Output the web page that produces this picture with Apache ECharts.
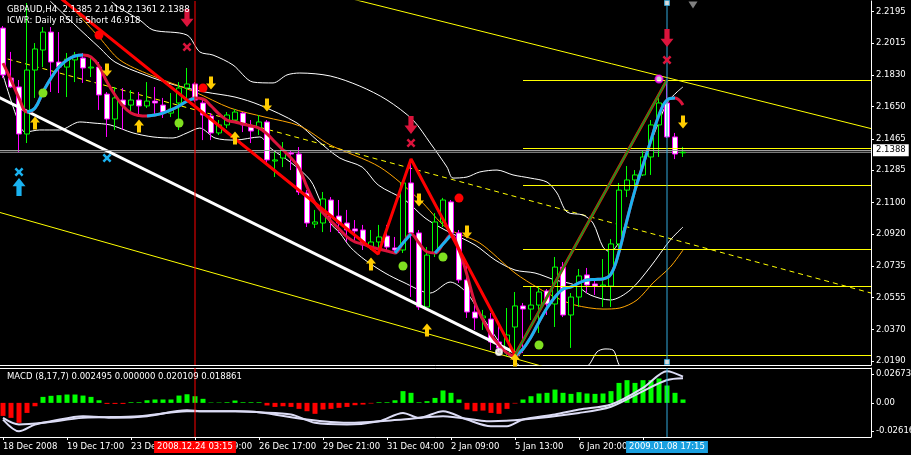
<!DOCTYPE html>
<html><head><meta charset="utf-8">
<script src="https://cdn.jsdelivr.net/npm/echarts@6/dist/echarts.min.js"></script>
<style>html,body{margin:0;padding:0;background:#000;}#c{width:911px;height:455px;}</style>
</head><body><div id="c"></div>
<script>
// ---------- DATA ----------
// candles: [open, high, low, close]
const candles = [
[2.2101,2.2113,2.1814,2.1832],[2.1814,2.1964,2.1757,2.1763],[2.1763,2.1803,2.1389,2.1493],[2.1493,2.2245,2.1441,2.1860],
[2.1860,2.2015,2.1700,2.1981],[2.1975,2.2107,2.1877,2.2078],[2.2078,2.2107,2.1734,2.1906],[2.1906,2.2078,2.1728,2.1877],
[2.1877,2.1958,2.1705,2.1923],[2.1918,2.1964,2.1791,2.1946],[2.1929,2.1958,2.1786,2.1872],[2.1872,2.1929,2.1820,2.1877],
[2.1877,2.1906,2.1631,2.1717],[2.1722,2.1734,2.1476,2.1579],[2.1579,2.1763,2.1516,2.1700],[2.1688,2.1757,2.1516,2.1659],
[2.1659,2.1745,2.1619,2.1688],[2.1688,2.1734,2.1602,2.1654],[2.1654,2.1791,2.1642,2.1682],[2.1682,2.1763,2.1602,2.1671],
[2.1659,2.1700,2.1585,2.1619],[2.1613,2.1728,2.1590,2.1636],[2.1671,2.1791,2.1516,2.1757],[2.1757,2.1872,2.1688,2.1780],
[2.1780,2.1791,2.1677,2.1688],[2.1671,2.1688,2.1458,2.1602],[2.1596,2.1613,2.1458,2.1499],[2.1499,2.1573,2.1487,2.1545],
[2.1545,2.1619,2.1527,2.1602],[2.1573,2.1636,2.1562,2.1619],[2.1613,2.1619,2.1504,2.1545],[2.1533,2.1573,2.1441,2.1510],
[2.1527,2.1602,2.1487,2.1562],[2.1562,2.1573,2.1326,2.1344],[2.1338,2.1389,2.1246,2.1344],[2.1355,2.1447,2.1303,2.1401],
[2.1384,2.1401,2.1286,2.1378],[2.1378,2.1418,2.1143,2.1160],[2.1154,2.1171,2.0959,2.0982],[2.0976,2.1057,2.0953,2.0988],
[2.0982,2.1160,2.0930,2.1120],[2.1114,2.1131,2.0930,2.1016],[2.1022,2.1114,2.0925,2.0982],[2.0982,2.1057,2.0873,2.0942],
[2.0948,2.0999,2.0884,2.0936],[2.0942,2.0971,2.0827,2.0856],[2.0844,2.0942,2.0827,2.0873],[2.0873,2.0971,2.0839,2.0902],
[2.0907,2.0971,2.0827,2.0844],[2.0839,2.0902,2.0815,2.0827],[2.0827,2.1217,2.0810,2.1212],[2.1212,2.1344,2.0557,2.0925],
[2.0925,2.0942,2.0483,2.0500],[2.0500,2.0844,2.0500,2.0798],[2.0810,2.1039,2.0787,2.0988],[2.0988,2.1126,2.0959,2.1114],
[2.1103,2.1114,2.0913,2.0925],[2.0925,2.0942,2.0638,2.0655],[2.0655,2.0758,2.0437,2.0471],[2.0471,2.0511,2.0368,2.0437],
[2.0437,2.0483,2.0368,2.0448],[2.0431,2.0465,2.0253,2.0299],[2.0299,2.0414,2.0242,2.0265],[2.0236,2.0494,2.0219,2.0339],
[2.0385,2.0586,2.0224,2.0506],[2.0506,2.0523,2.0236,2.0488],[2.0488,2.0615,2.0425,2.0511],[2.0511,2.0615,2.0351,2.0586],
[2.0592,2.0603,2.0454,2.0517],[2.0517,2.0787,2.0385,2.0729],[2.0729,2.0758,2.0442,2.0454],[2.0454,2.0580,2.0265,2.0557],
[2.0557,2.0718,2.0500,2.0678],[2.0684,2.0724,2.0580,2.0626],[2.0632,2.0666,2.0569,2.0620],[2.0620,2.0775,2.0500,2.0626],
[2.0620,2.0890,2.0500,2.0862],[2.0862,2.1212,2.0798,2.1171],[2.1171,2.1309,2.1131,2.1229],[2.1229,2.1286,2.1131,2.1258],
[2.1258,2.1395,2.1252,2.1361],[2.1361,2.1573,2.1258,2.1545],[2.1545,2.1700,2.1361,2.1671],[2.1671,2.1803,2.1470,2.1476],
[2.1476,2.1499,2.1349,2.1378],[2.1385,2.1419,2.1361,2.1388]
];
// thick moving average (one value per bar)
const maLine = [2.1900,2.1803,2.1699,2.1619,2.1642,2.1734,2.1814,2.1877,2.1918,2.1941,
2.1946,2.1935,2.1883,2.1791,2.1717,2.1654,2.1613,2.1599,2.1596,2.1602,
2.1613,2.1631,2.1654,2.1682,2.1699,2.1694,2.1654,2.1608,2.1573,2.1562,
2.1550,2.1539,2.1527,2.1493,2.1447,2.1401,2.1355,2.1298,2.1189,2.1097,
2.1039,2.0993,2.0948,2.0902,2.0873,2.0861,2.0844,2.0833,2.0821,2.0810,
2.0867,2.0919,2.0867,2.0816,2.0810,2.0861,2.0913,2.0827,2.0684,2.0523,
2.0425,2.0339,2.0282,2.0236,2.0219,2.0259,2.0328,2.0414,2.0494,2.0557,
2.0603,2.0615,2.0638,2.0655,2.0658,2.0661,2.0689,2.0816,2.0999,2.1171,
2.1315,2.1458,2.1602,2.1688,2.1699,2.1659];
// thin bands [barIndex, price]
const bandUpper = [[13.6,2.2251],[14.6,2.2216],[17.1,2.2147],[18.75,2.2090],[23,2.2061],[24.6,2.1964],[26.25,2.1946],[28.75,2.1889],[31.25,2.1791],[33.75,2.1786],[35.5,2.1832],[37.1,2.1843],[40.9,2.1826],[44.6,2.1768],[48,2.1688],[51.25,2.1573],[53.4,2.1441],[55.5,2.1303],[56.25,2.1240],[58,2.1246],[59.6,2.1275],[61.75,2.1286],[63.75,2.1258],[65.9,2.1240],[68,2.1217],[69.25,2.1154],[70.5,2.1045],[72.5,2.1028],[73.75,2.0982],[75,2.0844],[75.9,2.0816],[77.1,2.0884],[78.4,2.1074],[79.6,2.1269],[81.25,2.1476],[83,2.1671],[84.25,2.1734],[85,2.1763]];
const bandMiddle = [[5.9,2.2256],[9,2.2119],[12.1,2.1987],[14,2.1906],[17.75,2.1832],[21.5,2.1774],[25.25,2.1734],[29,2.1705],[32.1,2.1659],[36.75,2.1556],[39.25,2.1458],[42.1,2.1355],[44.9,2.1303],[46.9,2.1200],[50.25,2.1114],[52.75,2.1011],[55.25,2.0942],[59,2.0856],[61.5,2.0770],[64,2.0712],[66.5,2.0695],[69,2.0655],[71.5,2.0626],[73.4,2.0569],[75.9,2.0540],[78.4,2.0597],[80.9,2.0729],[83.4,2.0884],[85,2.0959]];
const bandLower = [[0,2.1832],[0.9,2.1699],[2.1,2.1545],[2.75,2.1504],[4.6,2.1516],[7.1,2.1516],[9.6,2.1562],[11.25,2.1556],[13.4,2.1545],[16.25,2.1499],[18.75,2.1476],[21.25,2.1470],[23,2.1499],[24.6,2.1527],[26.5,2.1470],[29,2.1458],[32.1,2.1476],[33.4,2.1413],[35.9,2.1332],[38.4,2.1229],[39.6,2.1114],[40.9,2.0982],[42.1,2.0925],[43.4,2.0844],[45.25,2.0770],[47.75,2.0695],[50,2.0643],[53.4,2.0580],[55.9,2.0643],[58,2.0580],[59.6,2.0465],[61.25,2.0351],[63,2.0236],[64.6,2.0161],[68.5,2.0030],[73.1,2.0161],[74.25,2.0242],[75.25,2.0259],[76.25,2.0253],[77.1,2.0161],[79,2.0080]];
const maOrange = [[7.75,2.2262],[12.1,2.2044],[14.6,2.1918],[18.4,2.1832],[24,2.1734],[28.4,2.1642],[32.75,2.1590],[37.1,2.1539],[40.9,2.1430],[47.1,2.1303],[52.1,2.1114],[55.5,2.0953],[59.6,2.0867],[64,2.0695],[66.9,2.0609],[69,2.0557],[71.5,2.0511],[75,2.0488],[77.1,2.0494],[79.25,2.0540],[81.25,2.0638],[83.4,2.0729],[85,2.0827]];
// zigzag vertices
const zigzag = [[7,2.2280],[46.9,2.0804],[51,2.1349],[64,2.0224],[83,2.1803]];
// trend lines
const whiteTrend = [[-0.5,2.1703],[64.6,2.0224]];
const yellowUpper = [[42,2.2287],[108.5,2.1524]];
const yellowLower = [[-0.5,2.1044],[67.75,2.0155]];
const yellowDashed = [[-0.5,2.1937],[108.5,2.0580]];
const fibLevels = [2.1800,2.1411,2.1198,2.0831,2.0619,2.0223];
const fibStart = 65;
const bidPrice = 2.1388;
const priceTicks = [2.2195,2.2015,2.1830,2.1650,2.1465,2.1285,2.1100,2.0920,2.0735,2.0555,2.0370,2.0190];
// markers [barIndex, price]
const redDownArrows = [[23,2.2159],[51,2.1545],[83,2.2044]];
const redCrosses = [[23,2.1992],[51,2.1441],[83,2.1918]];
const yellowDown = [[13,2.1860],[26,2.1786],[33,2.1659],[52,2.1114],[58,2.0930],[85,2.1562]];
const yellowUp = [[4,2.1556],[17,2.1539],[29,2.1470],[46,2.0747],[53,2.0368],[64,2.0196]];
const blueUp = [[2,2.1189]];
const blueCross = [[2,2.1275],[13,2.1355]];
const greenDots = [[5,2.1728],[22,2.1556],[50,2.0735],[55,2.0787],[67,2.0282]];
const redDots = [[12,2.2061],[25,2.1757],[57,2.1125]];
const lineEndMarks = [[83,2.2245],[83,2.0184]];
const navTriangle = [[86.25,2.2233]];
// MACD
const macdHist = [-0.0100,-0.0115,-0.0153,-0.0077,-0.0026,0.0046,0.0054,0.0059,0.0064,0.0064,
0.0056,0.0046,0.0020,-0.0008,-0.0008,-0.0008,0.0005,0.0005,0.0020,0.0026,
0.0026,0.0026,0.0056,0.0066,0.0051,0.0031,0.0003,0.0003,0.0005,0.0018,
0.0005,0.0005,0.0005,-0.0020,-0.0031,-0.0026,-0.0031,-0.0046,-0.0064,-0.0084,
-0.0051,-0.0046,-0.0038,-0.0031,-0.0018,-0.0013,-0.0005,0.0005,0.0005,0.0020,
0.0090,0.0077,0.0005,0.0013,0.0038,0.0095,0.0077,0.0026,-0.0051,-0.0064,
-0.0059,-0.0077,-0.0084,-0.0046,-0.0005,0.0026,0.0051,0.0072,0.0077,0.0102,
0.0077,0.0069,0.0082,0.0072,0.0069,0.0072,0.0090,0.0153,0.0174,0.0153,
0.0174,0.0174,0.0187,0.0133,0.0077,0.0026];
const macdMain = [[0,-0.0128],[2,-0.0218],[4,-0.0166],[6,-0.0141],[10,-0.0102],[14,-0.0115],[18,-0.0102],[23,-0.0056],[25,-0.0064],[29,-0.0064],[32,-0.0072],[36,-0.0089],[39,-0.0153],[43,-0.0166],[47,-0.0141],[50,-0.0077],[52,-0.0115],[55,-0.0064],[58,-0.0128],[61,-0.0179],[63,-0.0179],[65,-0.0128],[69,-0.0089],[72,-0.0051],[76,-0.0013],[80,0.0115],[83,0.0243],[85,0.0201]];
const macdSignal = [[0,-0.0115],[2,-0.0166],[5,-0.0153],[10,-0.0115],[17,-0.0102],[23,-0.0064],[29,-0.0064],[32,-0.0072],[38,-0.0128],[43,-0.0153],[50,-0.0128],[55,-0.0102],[61,-0.0141],[65,-0.0128],[72,-0.0077],[76,-0.0030],[80,0.0090],[83,0.0175],[85,0.0189]];
const macdMax = 0.026731, macdMin = -0.026161;
const macdTickLabels = ['0.026731','0.00','-0.026161'];
const timeLabels = ['18 Dec 2008','19 Dec 17:00','23 Dec 01:00','24 Dec 09:00','26 Dec 17:00','29 Dec 21:00','31 Dec 04:00','2 Jan 09:00','5 Jan 13:00','6 Jan 20:00','8 Jan 04:00'];
const headerLines = ['GBPAUD,H4  2.1385 2.1419 2.1361 2.1388','ICWR: Daily RSI is Short 46.918'];
const macdTitle = 'MACD (8,17,7) 0.002495 0.000000 0.020109 0.018861';
const redLineBar = 24, redLineText = '2008.12.24 03:15';
const blueLineBar = 83, blueLineText = '2009.01.08 17:15';

// ---------- CHART ----------
const NCAT = 109;
const FONT = 'DejaVu Sans';
const cats = Array.from({length:NCAT},(_,i)=>String(i));
const Y_MAX = 2.22564, Y_MIN = 2.01669;
const rising = i => (i>0 && maLine[i]>maLine[i-1]) || (i<maLine.length-1 && maLine[i+1]>maLine[i]);
const maBlue = maLine.map((v,i)=> rising(i)? v : null);
const upPath = 'path://M5 0 L10 6 L7 6 L7 13 L3 13 L3 6 L0 6 Z';
const downPath = 'path://M5 13 L10 7 L7 7 L7 0 L3 0 L3 7 L0 7 Z';
const crossPath = 'path://M0 2 L2 0 L5 3 L8 0 L10 2 L7 5 L10 8 L8 10 L5 7 L2 10 L0 8 L3 5 Z';
function line(data, color, width, extra){
  return Object.assign({type:'line', xAxisIndex:1, yAxisIndex:0, data, symbol:'none', silent:true,
    lineStyle:{color, width}}, extra||{});
}
function scatter(data, symbol, size, color, extra){
  return Object.assign({type:'scatter', xAxisIndex:1, yAxisIndex:0, data, symbol, symbolSize:size, silent:true,
    itemStyle:{color, opacity:1}, z:6}, extra||{});
}
const chart = echarts.init(document.getElementById('c'));
const tickInterval = i => i%8===0 && i<=80;
const axLine = {show:true, onZero:false, lineStyle:{color:'#ffffff', width:1}};
chart.setOption({
  backgroundColor:'#000000',
  animation:false,
  grid:[
    {left:-1, right:40, top:1, bottom:90, containLabel:false, outerBoundsMode:'none'},
    {left:-1, right:40, top:368, bottom:18, containLabel:false, outerBoundsMode:'none'}
  ],
  xAxis:[
    {type:'category', gridIndex:0, data:cats, boundaryGap:true, axisLine:axLine, axisTick:{show:false}, axisLabel:{show:false}, splitLine:{show:false}},
    {type:'value', gridIndex:0, min:-0.5, max:NCAT-0.5, show:false, axisLine:{onZero:false}},
    {type:'category', gridIndex:1, data:cats, boundaryGap:true, position:'bottom', axisLine:axLine,
      axisTick:{show:true, alignWithLabel:true, interval:tickInterval, length:3, lineStyle:{color:'#ffffff'}},
      axisLabel:{interval:tickInterval, formatter:(v,i)=>timeLabels[i/8]||'', align:'left', color:'#ffffff', fontSize:8.5, fontFamily:FONT, margin:5, hideOverlap:false},
      splitLine:{show:false}},
    {type:'value', gridIndex:1, min:-0.5, max:NCAT-0.5, position:'top', axisLine:axLine, axisTick:{show:false}, axisLabel:{show:false}, splitLine:{show:false}}
  ],
  yAxis:[
    {type:'value', gridIndex:0, position:'right', min:Y_MIN, max:Y_MAX, scale:true,
      axisLine:axLine,
      axisTick:{show:true, customValues:priceTicks, length:3, lineStyle:{color:'#ffffff'}},
      axisLabel:{customValues:priceTicks, formatter:v=>v.toFixed(4), color:'#ffffff', fontSize:8.5, fontFamily:FONT, margin:5},
      splitLine:{show:false}},
    {type:'value', gridIndex:1, position:'right', min:macdMin, max:macdMax,
      axisLine:axLine,
      axisTick:{show:true, customValues:[0.0222,0,-0.0215], length:3, lineStyle:{color:'#ffffff'}},
      axisLabel:{customValues:[0.0222,0,-0.0215], formatter:v=> v>0.01?macdTickLabels[0]:(v<-0.01?macdTickLabels[2]:macdTickLabels[1]), color:'#ffffff', fontSize:8.5, fontFamily:FONT, margin:5},
      splitLine:{show:false}}
  ],
  series:[
    line(yellowDashed,'#ffff00',1,{lineStyle:{color:'#ffff00',width:1,type:[5,4]}, z:1}),
    line(yellowUpper,'#ffff00',1,{z:1}),
    line(yellowLower,'#ffff00',1,{z:1}),
    line(bandUpper,'#ffffff',1,{smooth:0.3, z:1}),
    line(bandMiddle,'#ffffff',1,{smooth:0.3, z:1}),
    line(bandLower,'#ffffff',1,{smooth:0.3, z:1}),
    line(maOrange,'#ffa500',1,{smooth:0.3, z:1}),
    line([[fibStart,fibLevels[0]],[108.5,fibLevels[0]]],'#ffff00',1,{z:1,
      markLine:{silent:true, symbol:'none', label:{show:false}, lineStyle:{color:'#ffff00',width:1,type:'solid'},
        data: fibLevels.map(l=>[{coord:[fibStart,l]},{coord:[108.5,l]}])}}),
    line([[-0.5,bidPrice],[108.5,bidPrice]],'#a0a0a0',1,{z:1,
      markLine:{silent:true, symbol:'none', lineStyle:{color:'#a0a0a0',width:1,type:'solid'},
        label:{show:true, position:'end', formatter:bidPrice.toFixed(4), color:'#000', backgroundColor:'#ffffff', padding:[2,3,1,3], fontSize:8.5, fontFamily:FONT, distance:2},
        data:[{yAxis:bidPrice}]}}),
    {type:'candlestick', xAxisIndex:0, yAxisIndex:0, barWidth:5, silent:true, z:3,
      data: candles.map(c=>[c[0],c[3],c[2],c[1]]),
      itemStyle:{color:'#000000', color0:'#ffffff', borderColor:'#00ff00', borderColor0:'#ff00ff', borderWidth:1}},
    line(whiteTrend,'#ffffff',3,{z:4}),
    {type:'line', xAxisIndex:0, yAxisIndex:0, data:maLine, symbol:'none', smooth:0.4, silent:true, lineStyle:{color:'#dc143c',width:3}, z:4},
    {type:'line', xAxisIndex:0, yAxisIndex:0, data:maBlue, symbol:'none', smooth:0.4, silent:true, connectNulls:false, lineStyle:{color:'#1ab2f0',width:3}, z:4},
    line(zigzag,'#ff0000',3,{z:5}),
    line(zigzag.slice(3),'#1f8f1f',2,{z:5}),
    line([[redLineBar,Y_MIN],[redLineBar,Y_MAX]],'#ff0000',1,{z:5}),
    line([[blueLineBar,Y_MIN],[blueLineBar,Y_MAX]],'#33aadd',1,{z:5}),
    scatter(redDownArrows, downPath, [13,18], '#dc143c'),
    scatter(redCrosses, crossPath, [9,9], '#dc143c'),
    scatter(yellowDown, downPath, [10,13], '#ffcc00'),
    scatter(yellowUp, upPath, [10,13], '#ffcc00'),
    scatter(blueUp, upPath, [13,18], '#1ab2f0'),
    scatter(blueCross, crossPath, [9,9], '#1ab2f0'),
    scatter(greenDots, 'circle', 9, '#80e020'),
    scatter(redDots, 'circle', 9, '#ff0000'),
    scatter([[82,2.1808]], 'emptyCircle', 7, '#ff00ff', {itemStyle:{color:'#ff00ff',borderColor:'#ff00ff',borderWidth:2}}),
    scatter([[62,2.0242]], 'emptyCircle', 6, '#ffffff', {itemStyle:{color:'#ffffff',borderColor:'#ffffff',borderWidth:1}}),
    scatter(lineEndMarks, 'rect', 5, '#ffffff', {itemStyle:{color:'#ffffff',borderColor:'#33aadd',borderWidth:1}}),
    scatter(navTriangle, 'triangle', [9,7], '#808080', {symbolRotate:180}),
    // MACD panel
    {type:'bar', xAxisIndex:2, yAxisIndex:1, barWidth:5, silent:true,
      data: macdHist.map(v=>({value:v, itemStyle:{color: v>=0?'#00ff00':'#ff0000'}}))},
    {type:'line', xAxisIndex:3, yAxisIndex:1, data:macdMain, symbol:'none', smooth:0.3, silent:true, lineStyle:{color:'#dcdcf5',width:2}, z:4},
    {type:'line', xAxisIndex:3, yAxisIndex:1, data:macdSignal, symbol:'none', smooth:0.3, silent:true, lineStyle:{color:'#dcdcf5',width:2}, z:4},
    {type:'line', xAxisIndex:3, yAxisIndex:1, data:[[redLineBar,macdMin],[redLineBar,macdMax]], symbol:'none', silent:true, lineStyle:{color:'#ff0000',width:1}, z:5},
    {type:'line', xAxisIndex:3, yAxisIndex:1, data:[[blueLineBar,macdMin],[blueLineBar,macdMax]], symbol:'none', silent:true, lineStyle:{color:'#33aadd',width:1}, z:5}
  ]
});
const xr = chart.convertToPixel({xAxisIndex:1}, redLineBar);
const xb = chart.convertToPixel({xAxisIndex:1}, blueLineBar);
chart.setOption({graphic:[
  {type:'text', left:7, top:5, z:100, style:{text:headerLines[0], fill:'#ffffff', font:'8.5px "DejaVu Sans"'}},
  {type:'text', left:7, top:16, z:100, style:{text:headerLines[1], fill:'#ffffff', font:'8.5px "DejaVu Sans"'}},
  {type:'text', left:7, top:372, z:100, style:{text:macdTitle, fill:'#ffffff', font:'8.5px "DejaVu Sans"'}},
  {type:'text', x:xr, y:447, z:100, style:{text:redLineText, fill:'#ffffff', backgroundColor:'#ff0000', padding:[2,3,1,3], align:'center', verticalAlign:'middle', font:'8.5px "DejaVu Sans"'}},
  {type:'text', x:xb, y:447, z:100, style:{text:blueLineText, fill:'#ffffff', backgroundColor:'#1aa0e0', padding:[2,3,1,3], align:'center', verticalAlign:'middle', font:'8.5px "DejaVu Sans"'}}
]});
</script>
</body></html>
